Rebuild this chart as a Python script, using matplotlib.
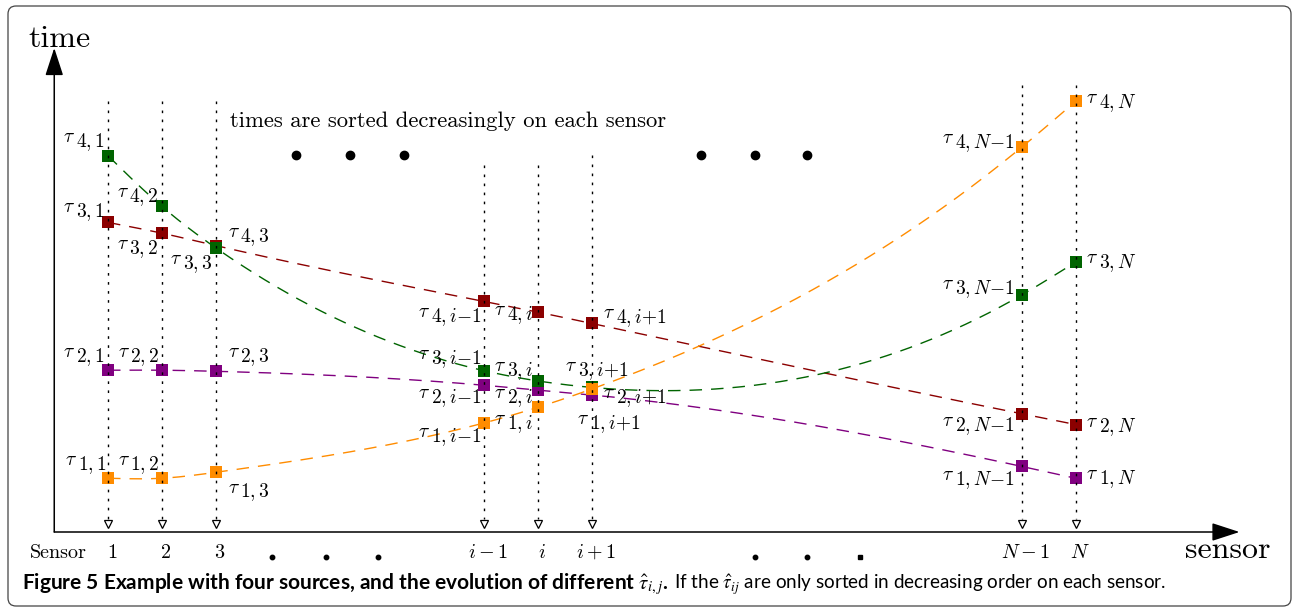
import numpy as np
import matplotlib
matplotlib.use("Agg")
import matplotlib.pyplot as plt
from matplotlib.patches import FancyBboxPatch
from matplotlib.transforms import IdentityTransform

plt.rcParams['mathtext.fontset'] = 'cm'
plt.rcParams['lines.scale_dashes'] = False

# ---------------- data ----------------
sensor_pos = [1, 2, 3, 8, 9, 10, 18, 19]
sensor_sub = ['1', '2', '3', 'i{-}1', 'i', 'i{+}1', 'N{-}1', 'N']
tick_labels = ['1', '2', '3', r'$i-1$', r'$i$', r'$i+1$', r'$N-1$', r'$N$']
source_orange = [1.00, 1.00, 1.11, 2.03, 2.32, 2.66, 7.16, 8.01]
source_purple = [3.01, 3.01, 2.99, 2.73, 2.64, 2.55, 1.22, 1.00]
source_red = [5.76, 5.56, 5.33, 4.29, 4.09, 3.88, 2.20, 2.00]
source_green = [7.00, 6.06, 5.29, 3.00, 2.81, 2.69, 4.41, 5.02]
dots_top_x = [4.5, 5.5, 6.5, 12.03, 13.03, 14.0]
dots_bottom_x = [4.05, 5.05, 6.03, 13.03, 14.0, 14.99]

# ---------------- style / layout ----------------
W, H = 1294, 616
PX = 53.75            # pixels per data unit
OX, OY = 54.25, 532   # pixel position of origin

series = [  # (values, colour, zorder)
    (source_red, '#8B0000', 3),
    (source_purple, '#800080', 4),
    (source_green, '#006400', 5),
    (source_orange, '#FF8C00', 6),
]
line_tops_px = [101, 101, 101, 165, 165, 155, 85, 85]

# label layout per sensor: rank -> (dx px, dy px (up), ha)
label_layout = [
    {4: (-3, 14.5, 'right'), 3: (-3, 12, 'right'), 2: (-3, 14, 'right'), 1: (-1, 14, 'right')},
    {4: (-3, 10, 'right'), 3: (-3, -15, 'right'), 2: (-2, 14, 'right'), 1: (-2, 14, 'right')},
    {4: (12, 9.5, 'left'), 3: (-3, -15, 'right'), 2: (12, 15, 'left'), 1: (12, -19, 'left')},
    {4: (-3, -14, 'right'), 3: (-3, 13, 'right'), 2: (-3, -12, 'right'), 1: (-3, -13, 'right')},
    {4: (-5, -2, 'right'), 3: (-5, 11, 'right'), 2: (-5, -7, 'right'), 1: (-5, -16, 'right')},
    {4: (11, 6.5, 'left'), 3: (5, 17.5, 'center'), 2: (11, -8, 'left'), 1: (17, -28, 'center')},
    {4: (-7, 5, 'right'), 3: (-7, 7, 'right'), 2: (-7, -11.5, 'right'), 1: (-7, -12, 'right')},
    {4: (11, -0.5, 'left'), 3: (11, 0, 'left'), 2: (11, -1, 'left'), 1: (11, 0, 'left')},
]


def px2x(px):
    return (px - OX) / PX


def py2y(py):
    return (OY - py) / PX


def natural_spline(x, y, n=600):
    x = np.asarray(x, float)
    y = np.asarray(y, float)
    k = len(x)
    h = np.diff(x)
    A = np.zeros((k, k))
    b = np.zeros(k)
    A[0, 0] = A[-1, -1] = 1
    for i in range(1, k - 1):
        A[i, i - 1] = h[i - 1]
        A[i, i] = 2 * (h[i - 1] + h[i])
        A[i, i + 1] = h[i]
        b[i] = 6 * ((y[i + 1] - y[i]) / h[i] - (y[i] - y[i - 1]) / h[i - 1])
    M = np.linalg.solve(A, b)
    xs = np.linspace(x[0], x[-1], n)
    idx = np.clip(np.searchsorted(x, xs) - 1, 0, k - 2)
    x0, x1 = x[idx], x[idx + 1]
    y0, y1 = y[idx], y[idx + 1]
    M0, M1 = M[idx], M[idx + 1]
    hh = x1 - x0
    t0 = x1 - xs
    t1 = xs - x0
    ys = (M0 * t0 ** 3 / (6 * hh) + M1 * t1 ** 3 / (6 * hh)
          + (y0 / hh - M0 * hh / 6) * t0 + (y1 / hh - M1 * hh / 6) * t1)
    return xs, ys


fig = plt.figure(figsize=(W / 100, H / 100), dpi=100)
ax = fig.add_axes([0, 0, 1, 1])
ax.set_xlim(px2x(0), px2x(W))
ax.set_ylim(py2y(H), py2y(0))
ax.axis('off')
renderer = fig.canvas.get_renderer()

# border
fig.add_artist(FancyBboxPatch((8, H - 606), 1283, 600,
                              boxstyle='round,pad=0,rounding_size=8',
                              transform=IdentityTransform(), fill=False,
                              ec='#444444', lw=0.9))

# axes with arrows
arrow_kw = dict(arrowstyle='-|>,head_length=0.86,head_width=0.28', lw=1.1,
                color='black', shrinkA=0, shrinkB=0, mutation_scale=20)
ax.annotate('', xy=(px2x(1239.5), 0), xytext=(0, 0), arrowprops=arrow_kw, zorder=12)
ax.annotate('', xy=(0, py2y(48)), xytext=(0, 0), arrowprops=arrow_kw, zorder=12)

ax.text(px2x(28), py2y(47), 'time', family='cmr10', fontsize=23, va='baseline', ha='left')
ax.text(px2x(1185), py2y(558), 'sensor', family='cmr10', fontsize=23, va='baseline', ha='left')

# dashed curves and squares
for vals, col, z in series:
    xs, ys = natural_spline(sensor_pos, vals)
    ax.plot(xs, ys, color=col, lw=1.0, ls=(0, (9, 6.5)), zorder=2)
    ax.plot(sensor_pos, vals, 's', color=col, ms=9.2, mew=0, zorder=z)

# dotted verticals with open arrowheads
for x, top in zip(sensor_pos, line_tops_px):
    ax.plot([x, x], [py2y(top), py2y(519)], color='black', lw=1.0,
            ls=(0, (1.9, 4.6)), zorder=10)
    ax.plot([x], [py2y(523.5)], marker='v', ms=5.5, mfc='white', mec='black',
            mew=0.9, zorder=11, ls='none')

# tau labels
FS = 14
RAISE = 5
GAP = 1


def tau_label(x, y, sub, dx, dy, ha):
    base_dy = dy - 6.2
    t1 = ax.annotate(r'$\tau$', (x, y), xytext=(0, 0), textcoords='offset pixels',
                     fontsize=FS, ha='left', va='baseline', zorder=15)
    t2 = ax.annotate(r'$%s$' % sub, (x, y), xytext=(0, 0), textcoords='offset pixels',
                     fontsize=FS, ha='left', va='baseline', zorder=15)
    w1 = t1.get_window_extent(renderer).width
    w2 = t2.get_window_extent(renderer).width
    total = w1 + GAP + w2
    if ha == 'right':
        left = dx - total
    elif ha == 'center':
        left = dx - total / 2
    else:
        left = dx
    t1.xyann = (left, base_dy + RAISE)
    t2.xyann = (left + w1 + GAP, base_dy)


all_vals = [s[0] for s in series]
for j, x in enumerate(sensor_pos):
    col_vals = [v[j] for v in all_vals]
    order = np.argsort(col_vals)
    for r, si in enumerate(order, start=1):
        dx, dy, ha = label_layout[j][r]
        tau_label(x, col_vals[si], '%d,%s' % (r, sensor_sub[j]), dx, dy, ha)

# texts
ax.text(px2x(230), py2y(127), 'times are sorted decreasingly on each sensor',
        family='cmr10', fontsize=16.3, va='baseline', ha='left')
ax.plot(dots_top_x, [py2y(155)] * len(dots_top_x), 'o', color='black', ms=6, ls='none')
ax.plot(dots_bottom_x[:-1], [py2y(557)] * (len(dots_bottom_x) - 1), 'o', color='black',
        ms=3.2, ls='none')
ax.plot(dots_bottom_x[-1:], [py2y(557)], 's', color='black', ms=3.4, ls='none')

# tick labels
for x, lab in zip(sensor_pos, tick_labels):
    ax.annotate(lab, (x, 0), xytext=(4, -26), textcoords='offset pixels',
                fontsize=14.5, ha='center', va='baseline', family='cmr10')
ax.text(px2x(87), py2y(558), 'Sensor', family='cmr10', fontsize=14.5,
        ha='right', va='baseline')

# caption
cap_base = 1 - 589 / H
tb = fig.text(22 / W, cap_base,
              r'Figure 5 Example with four sources, and the evolution of different $\hat{\tau}_{i,j}$.',
              family='Lato', fontweight='bold', fontsize=15, va='baseline',
              math_fontfamily='stix')
bb = tb.get_window_extent(renderer)
fig.text((bb.x1 + 6) / W, cap_base,
         r'If the $\hat{\tau}_{ij}$ are only sorted in decreasing order on each sensor.',
         family='Lato', fontsize=13.6, va='baseline', math_fontfamily='stix')

fig.savefig('out.png', dpi=100)
